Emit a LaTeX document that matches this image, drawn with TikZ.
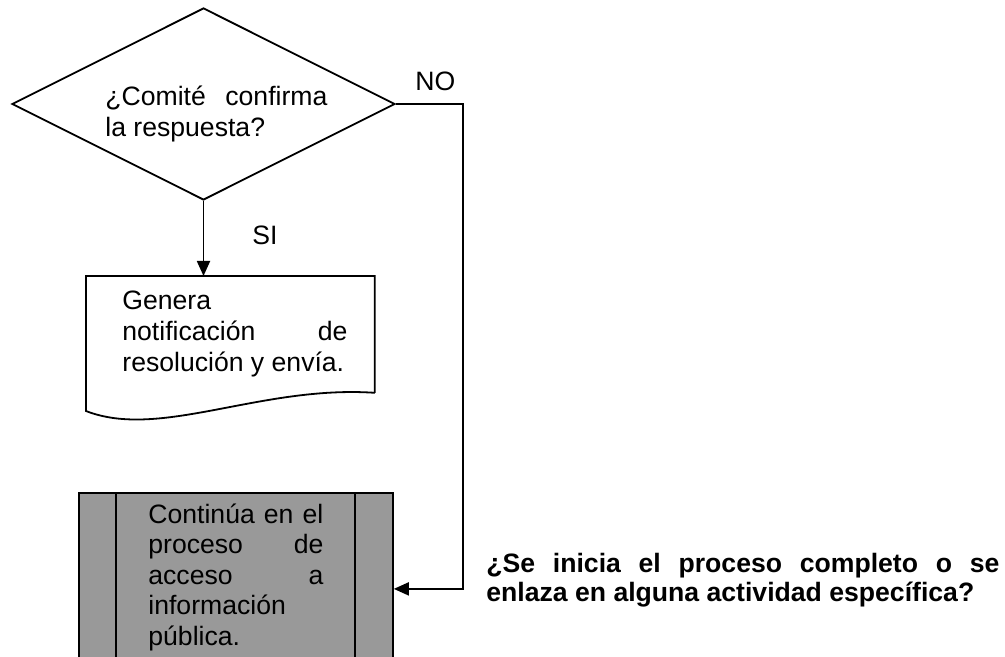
\documentclass[tikz,border=0pt]{standalone}
\usepackage{fontspec}
\setmainfont{Liberation Sans}
\usepackage{tikz}
\usetikzlibrary{arrows.meta,shapes.geometric}
\definecolor{subproc}{HTML}{999999}

\begin{document}
\begin{tikzpicture}[
    x=0.5pt, y=-0.5pt,
    txt/.style = {font=\fontsize{13.3}{15.5}\selectfont, inner sep=0pt, anchor=base west, align=justify},
    decision/.style = {diamond, draw, line width=0.9pt, minimum width=191.5pt, minimum height=96pt, inner sep=0pt},
    docnode/.style = {rectangle, minimum width=144pt, minimum height=58pt, inner sep=0pt, anchor=north west},
    subnode/.style = {rectangle, draw, line width=0.9pt, fill=subproc, minimum width=157pt, minimum height=96pt, inner sep=0pt, anchor=north west},
    flow/.style = {line width=0.9pt, -{Triangle[width=6.5pt, length=7.5pt]}},
]
    \path[use as bounding box] (0,0) rectangle (1005,657);
    \clip (0,0) rectangle (1005,657);

    % decision
    \node[decision] (dec) at (203.5,104) {};
    \node[txt, text width=111pt] (dectext) at (105,106) {¿Comité confirma\linebreak la respuesta?};

    % document
    \node[docnode] (doc) at (86,276) {};
    \draw[line width=0.9pt] (doc.south east) -- (doc.north east) -- (doc.north west) -- (86,411)
        .. controls (160,440) and (260,385) .. (doc.south east);
    \node[txt, text width=112.5pt] (doctext) at (122,310) {Genera\\ notificación de\linebreak resolución y envía.};

    % predefined process
    \node[subnode] (sub) at (78,492) {};
    \draw[line width=0.9pt] ([xshift=19pt]sub.north west) -- ([xshift=19pt]sub.south west);
    \draw[line width=0.9pt] ([xshift=-19.5pt]sub.north east) -- ([xshift=-19.5pt]sub.south east);
    \node[txt, text width=87.5pt, font=\fontsize{13.3}{15.25}\selectfont] (subtext) at (148,523)
        {Continúa en el\linebreak proceso de\linebreak acceso a\linebreak información\\ pública.};

    % connectors
    \draw[flow] (dec.south) -- (dec.south |- doc.north);
    \draw[flow] (dec.east) -- ++(67,0) |- (sub.east);

    % labels
    \node[txt] (si) at (252,245) {SI};
    \node[txt] (no) at (415,91) {NO};
    \node[txt, text width=256.5pt, font=\fontsize{13.3}{14.5}\selectfont\bfseries] (question) at (486,572)
        {¿Se inicia el proceso completo o se\linebreak enlaza en alguna actividad específica?};

\end{tikzpicture}
\end{document}
